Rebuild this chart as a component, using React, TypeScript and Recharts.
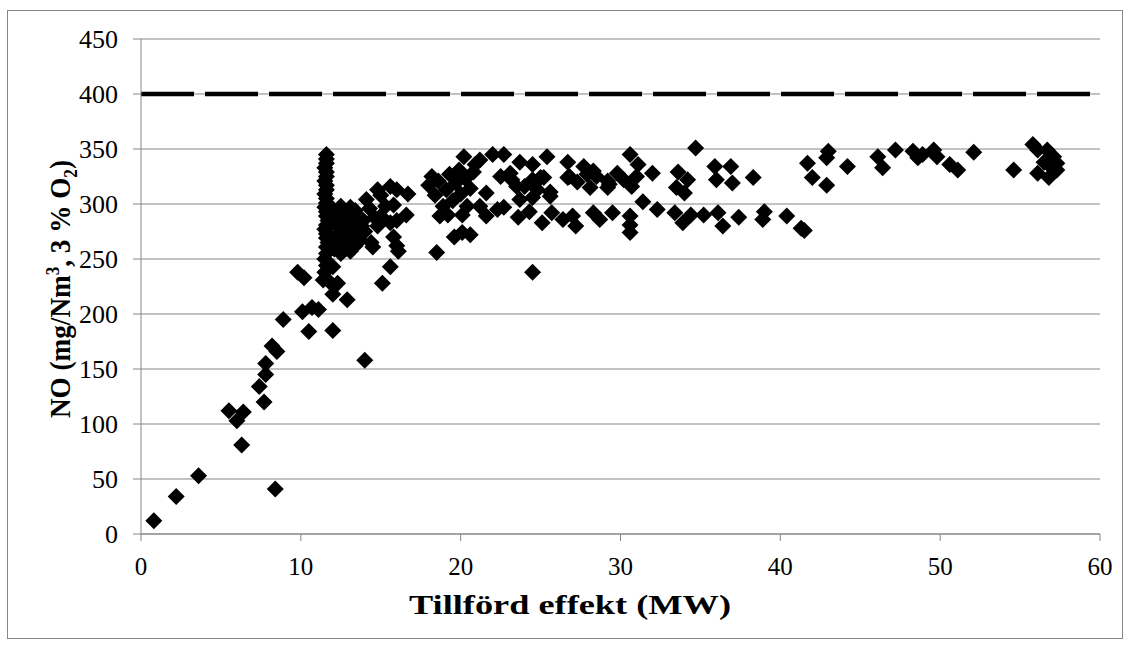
import React from 'react';
import {
  ScatterChart,
  Scatter,
  XAxis,
  YAxis,
  CartesianGrid,
  ReferenceLine,
} from 'recharts';

// NO vs supplied power, [MW, mg/Nm3]
const rampPoints = [
  [0.8, 12], [2.2, 34], [3.6, 53], [5.5, 112], [6.0, 103], [6.4, 111], [6.3, 81], [8.4, 41],
  [7.4, 134], [7.7, 120], [7.8, 145], [7.8, 155], [8.2, 171], [8.5, 166], [8.9, 195],
  [9.8, 238], [10.2, 233], [10.1, 202], [10.7, 206], [11.1, 204], [10.5, 184], [12.0, 185],
  [14.0, 158],
];

const columnPoints = [
  [11.6, 345], [11.6, 341], [11.6, 337], [11.5, 333], [11.6, 329], [11.6, 325], [11.5, 321],
  [11.6, 317], [11.6, 313], [11.5, 309], [11.6, 305], [11.6, 301], [11.5, 297], [11.6, 293],
  [11.6, 289], [11.7, 285], [11.6, 281], [11.5, 277], [11.6, 273], [11.6, 269], [11.7, 265],
  [11.6, 261], [11.6, 255], [11.5, 250], [11.6, 244], [11.5, 238], [11.4, 231], [11.8, 229],
  [12.3, 228], [12.0, 218], [12.9, 213], [12.0, 243],
];

const blobPoints = [
  [11.9, 297], [12.2, 291], [12.5, 298], [12.8, 293], [13.1, 297], [13.4, 294], [12.0, 283],
  [12.4, 279], [12.7, 285], [13.0, 281], [13.3, 286], [13.6, 289], [12.2, 270], [12.6, 266],
  [12.9, 272], [13.2, 269], [13.5, 276], [12.1, 259], [12.5, 255], [12.8, 259], [13.1, 257],
  [13.4, 262], [13.7, 267], [12.3, 262], [11.9, 270], [13.0, 290], [12.6, 276], [13.8, 280],
];

const midPoints = [
  [14.1, 304], [14.3, 296], [14.8, 313], [15.0, 308], [15.6, 316], [16.0, 313], [16.7, 309],
  [14.6, 288], [15.0, 289], [15.3, 298], [16.6, 290], [16.0, 285], [15.6, 283], [14.0, 275],
  [14.4, 265], [14.5, 261], [15.8, 270], [16.1, 257], [16.0, 262], [13.9, 285], [15.6, 243],
  [15.1, 228], [15.8, 299], [14.8, 280],
];

const plateauLeft = [
  [18.5, 256], [19.6, 270], [20.1, 274], [20.6, 272], [18.0, 317], [18.2, 325], [18.4, 308],
  [18.6, 321], [18.7, 289], [18.9, 298], [19.1, 313], [19.3, 327], [19.5, 303], [19.7, 319],
  [19.9, 331], [20.0, 309], [20.2, 343], [20.3, 323], [20.4, 298], [20.1, 290], [20.6, 314],
  [20.8, 329], [19.2, 290], [21.2, 340], [21.6, 310], [21.6, 289], [22.0, 345], [22.3, 295],
  [22.5, 325], [22.7, 345], [21.2, 298], [20.9, 336],
];

const plateauMid = [
  [23.1, 328], [23.2, 322], [23.5, 316], [23.7, 338], [24.0, 316], [24.5, 336], [24.5, 322],
  [24.8, 313], [25.0, 324], [25.2, 324], [25.4, 343], [25.6, 307], [25.6, 311], [23.7, 304],
  [24.5, 306], [26.7, 338], [26.7, 324], [27.3, 320], [27.7, 334], [27.9, 327], [28.3, 330],
  [28.1, 315], [22.7, 297], [23.6, 288], [24.3, 293], [25.1, 283], [25.7, 292], [26.4, 286],
  [27.2, 280], [27.0, 289], [28.3, 292], [28.7, 286], [24.5, 238], [26.8, 325], [28.5, 325],
];

const plateauRight = [
  [29.2, 315], [29.2, 321], [29.8, 328], [30.2, 322], [30.7, 316], [31.0, 325], [30.6, 345],
  [31.1, 336], [32.0, 328], [31.4, 302], [32.3, 295], [29.5, 292], [30.6, 289], [30.6, 281],
  [30.6, 274], [33.4, 292], [33.9, 283], [34.4, 290], [35.2, 290], [36.1, 292], [36.4, 280],
  [37.4, 288], [33.6, 329], [34.2, 322], [33.5, 315], [34.0, 310], [34.7, 351], [35.9, 334],
  [36.9, 334], [36.0, 322], [37.0, 319], [38.3, 324], [29.3, 318],
];

const farPoints = [
  [39.0, 293], [38.9, 286], [40.4, 289], [41.3, 278], [41.5, 276], [41.7, 337], [42.0, 324],
  [42.9, 317], [43.0, 348], [42.9, 342], [44.2, 334], [46.1, 343], [46.4, 333], [47.2, 349],
  [48.3, 348], [48.6, 342], [48.9, 345], [49.6, 349], [49.8, 343], [50.6, 336], [51.1, 331],
  [52.1, 347], [54.6, 331], [55.8, 354], [56.1, 349], [56.7, 349], [57.1, 343], [57.3, 337],
  [56.9, 334], [56.1, 328], [56.8, 324], [56.5, 338], [57.3, 331],
];

const groups = [rampPoints, columnPoints, blobPoints, midPoints, plateauLeft, plateauMid, plateauRight, farPoints];

const xTicks = [0, 10, 20, 30, 40, 50, 60];
const yTicks = [0, 50, 100, 150, 200, 250, 300, 350, 400, 450];
const limitValue = 400;

const FONT = 'Liberation Serif';
const GRAY = '#868686';

const Diamond = (props: any) => {
  const { cx, cy } = props;
  const r = 8.5;
  return <path d={`M${cx},${cy - r}L${cx + r},${cy}L${cx},${cy + r}L${cx - r},${cy}Z`} fill="#000" />;
};

// tick text, slightly narrowed to follow the condensed look of the original
const XTick = (props: any) => {
  const s = String(props.payload.value);
  return (
    <text
      x={props.x}
      y={props.y + 34}
      textAnchor="middle"
      style={{ fontFamily: FONT, fontWeight: 400 }}
      fontSize={25}
      fill="#000"
      textLength={s.length * 12.5}
      lengthAdjust="spacingAndGlyphs"
    >
      {s}
    </text>
  );
};

const YTick = (props: any) => {
  const s = String(props.payload.value);
  return (
    <text
      x={props.x - 15}
      y={props.y + 8.5}
      textAnchor="end"
      style={{ fontFamily: FONT, fontWeight: 400 }}
      fontSize={25}
      fill="#000"
      textLength={s.length * 13}
      lengthAdjust="spacingAndGlyphs"
    >
      {s}
    </text>
  );
};

export default function App() {
  return (
    <div style={{ position: 'absolute', left: 0, top: 0, width: 1130, height: 648, background: '#fff', fontFamily: FONT }}>
      <div
        style={{
          position: 'absolute', left: 7, top: 10, width: 1114, height: 627,
          border: `1px solid ${GRAY}`,
        }}
      />
      <div style={{ position: 'absolute', left: 0, top: 0 }}>
        <ScatterChart width={1130} height={648} margin={{ top: 39, right: 30, bottom: 74, left: 71 }}>
          <CartesianGrid horizontal vertical={false} stroke={GRAY} strokeWidth={1.2} />
          <XAxis
            type="number"
            dataKey="x"
            domain={[0, 60]}
            ticks={xTicks}
            height={40}
            tickSize={7}
            tickMargin={0}
            stroke={GRAY}
            tick={XTick}
            label={{
              content: () => (
                <text
                  x={570}
                  y={614}
                  textAnchor="middle"
                  style={{ fontFamily: FONT }}
                  fontWeight="bold"
                  fontSize={28}
                  fill="#000"
                  textLength={322}
                  lengthAdjust="spacingAndGlyphs"
                >
                  Tillförd effekt (MW)
                </text>
              ),
            }}
          />
          <YAxis
            type="number"
            dataKey="y"
            domain={[0, 450]}
            ticks={yTicks}
            width={70}
            tickSize={8}
            tickMargin={0}
            stroke={GRAY}
            tick={YTick}
            label={{
              content: () => (
                <text
                  x={70}
                  y={289}
                  transform="rotate(-90 70 289)"
                  textAnchor="middle"
                  style={{ fontFamily: FONT }}
                  fontWeight="bold"
                  fontSize={30}
                  fill="#000"
                  textLength={258}
                  lengthAdjust="spacingAndGlyphs"
                >
                  NO (mg/Nm<tspan dy={-11} fontSize={19}>3</tspan>
                  <tspan dy={11}>, 3 % O</tspan>
                  <tspan dy={7} fontSize={19}>2</tspan>
                  <tspan dy={-7}>)</tspan>
                </text>
              ),
            }}
          />
          <ReferenceLine y={limitValue} stroke="#000" strokeWidth={4.5} strokeDasharray="53 11" />
          {groups.map((g, i) => (
            <Scatter
              key={i}
              data={g.map(([x, y]) => ({ x, y }))}
              shape={Diamond}
              isAnimationActive={false}
            />
          ))}
        </ScatterChart>
      </div>
    </div>
  );
}
